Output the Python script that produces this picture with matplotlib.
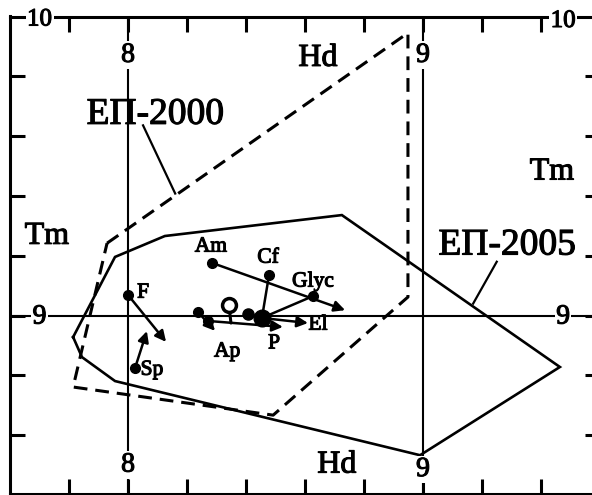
import matplotlib
matplotlib.use('Agg')
import matplotlib.pyplot as plt
import matplotlib.patheffects as pe
import numpy as np

plt.rcParams['font.family'] = ['Liberation Serif', 'DejaVu Serif']

# ---- data ----
# ЕП-2005 (solid polygon)
ep2005_hd = [7.814, 7.844, 7.956, 8.990, 9.464, 8.725, 8.125, 7.956]
ep2005_tm = [8.928, 8.861, 8.781, 8.533, 8.828, 9.336, 9.266, 9.196]
# ЕП-2000 (dashed polygon)
ep2000_hd = [7.929, 8.949, 8.949, 8.492, 7.814]
ep2000_tm = [9.242, 9.945, 9.062, 8.667, 8.761]

# named vectors: start (dot) -> end (arrow)
species = ['F', 'Sp', 'Am', 'Cf', 'Glyc', 'El', 'P', 'Ap']
start_hd = [8.000, 8.024, 8.285, 8.478, 8.627, 8.454, 8.271, 8.237]
start_tm = [9.069, 8.825, 9.176, 9.135, 9.065, 8.992, 8.982, 9.012]
end_hd = [8.129, 8.064, 8.736, 8.454, 8.454, 8.610, 8.525, 8.295]
end_tm = [8.912, 8.948, 9.018, 8.992, 8.992, 8.975, 8.962, 8.949]
label_hd = [8.051, 8.081, 8.281, 8.475, 8.627, 8.644, 8.495, 8.336]
label_tm = [9.075, 8.817, 9.229, 9.192, 9.112, 8.968, 8.905, 8.878]
show_head = [True, True, True, False, False, True, True, True]

# unlabelled marks in the central cluster
extra_start_hd = [8.342, 8.407]
extra_start_tm = [9.035, 9.005]
extra_end_hd = [8.349, 8.454]
extra_end_tm = [8.975, 8.992]

x_ticks = [7.8, 8.0, 8.2, 8.4, 8.6, 8.8, 9.0, 9.2, 9.4]
y_ticks = [8.6, 8.8, 9.0, 9.2, 9.4, 9.6, 9.8]

# ---- figure ----
W, H = 592, 495
fig = plt.figure(figsize=(W / 100, H / 100), dpi=100)
ax_left, ax_right = 10, 600
ax_top, ax_bottom = 16.5, 493.5
ax = fig.add_axes([ax_left / W, 1 - ax_bottom / H,
                   (ax_right - ax_left) / W, (ax_bottom - ax_top) / H])
ax.set_xlim(7.6, 9.6)
ax.set_ylim(8.405, 10.0)

for s in ax.spines.values():
    s.set_linewidth(2.2)
    s.set_zorder(2)

ax.set_xticks(x_ticks)
ax.set_yticks(y_ticks)
ax.tick_params(direction='in', length=11, width=2.2, top=True, right=True,
               labelbottom=False, labelleft=False)

thick = [pe.withStroke(linewidth=0.8, foreground='black')]

# reference lines
line_kw = dict(color='black', lw=1.5, zorder=1)
ax.axvline(8, **line_kw)
ax.axvline(9, **line_kw)
ax.axhline(9, **line_kw)

# polygons
ax.plot(ep2005_hd + ep2005_hd[:1], ep2005_tm + ep2005_tm[:1],
        color='black', lw=1.9, zorder=3, solid_joinstyle='miter')
ax.plot(ep2000_hd + ep2000_hd[:1], ep2000_tm + ep2000_tm[:1],
        color='black', lw=2.2, zorder=3, dashes=(4.5, 2.6))

# vectors
for i, name in enumerate(species):
    style = '-|>' if show_head[i] else '-'
    ax.annotate('', xy=(end_hd[i], end_tm[i]), xytext=(start_hd[i], start_tm[i]),
                arrowprops=dict(arrowstyle=style, color='black', lw=1.8,
                                mutation_scale=16, shrinkA=0, shrinkB=0),
                zorder=4)
    ax.plot(start_hd[i], start_tm[i], 'o', color='black', ms=7, zorder=5)
    ax.text(label_hd[i], label_tm[i], name, fontsize=15.5,
            ha='center', va='center', zorder=6, path_effects=thick)

for i in range(len(extra_start_hd)):
    ax.annotate('', xy=(extra_end_hd[i], extra_end_tm[i]),
                xytext=(extra_start_hd[i], extra_start_tm[i]),
                arrowprops=dict(arrowstyle='-', color='black', lw=2.2,
                                shrinkA=0, shrinkB=0), zorder=4)
ax.plot(extra_start_hd[0], extra_start_tm[0], 'o', mfc='white', mec='black',
        mew=2.5, ms=10, zorder=5)
ax.plot(extra_start_hd[1], extra_start_tm[1], 'o', color='black', ms=8, zorder=5)
ax.plot(end_hd[3], end_tm[3], 'o', color='black', ms=12, zorder=5)

# tick labels (as text breaking the lines)
wb = dict(facecolor='white', edgecolor='none', pad=1.0)
tick_fs = 20
tkw = dict(ha='center', va='center', bbox=wb, zorder=7, path_effects=thick)
ax.text(7.70, 9.99, '10', fontsize=18, **tkw)
ax.text(9.475, 9.985, '10', fontsize=18, **tkw)
ax.text(8.0, 9.87, '8', fontsize=tick_fs, **tkw)
ax.text(9.0, 9.87, '9', fontsize=tick_fs, **tkw)
ax.text(8.0, 8.50, '8', fontsize=tick_fs, **tkw)
ax.text(9.0, 8.485, '9', fontsize=tick_fs, **tkw)
ax.text(7.70, 8.995, '9', fontsize=tick_fs, **tkw)
ax.text(9.475, 8.995, '9', fontsize=tick_fs, **tkw)

# axis names
akw = dict(ha='center', va='center', zorder=7, path_effects=thick)
ax.text(8.644, 9.86, 'Hd', fontsize=23, **akw)
ax.text(8.708, 8.50, 'Hd', fontsize=23, **akw)
ax.text(7.725, 9.265, 'Tm', fontsize=23, **akw)
ax.text(9.437, 9.48, 'Tm', fontsize=23, **akw)

# region labels with leaders
ax.text(8.092, 9.672, 'ЕП-2000', fontsize=27, **akw)
ax.plot([8.051, 8.160], [9.636, 9.408], color='black', lw=1.6, zorder=3)
ax.text(9.285, 9.235, 'ЕП-2005', fontsize=27, **akw)
ax.plot([9.25, 9.17], [9.18, 9.04], color='black', lw=1.6, zorder=3)

fig.savefig('out.png', dpi=100)
